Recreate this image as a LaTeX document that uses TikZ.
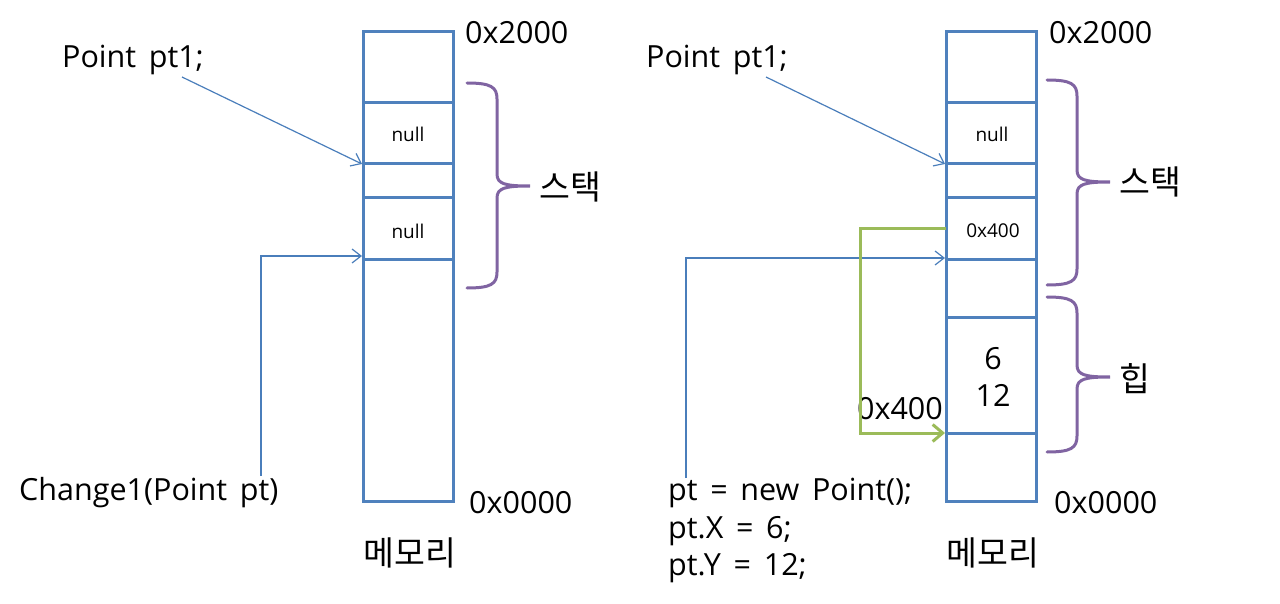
\documentclass[tikz,border=0pt]{standalone}
\usepackage{fontspec}
\setmainfont{Open Sans}[WordSpace=1.6]
\newfontfamily\kr{Noto Sans CJK KR}[Scale=1.1]
\usetikzlibrary{arrows.meta, positioning}

\definecolor{memblue}{HTML}{4F81BD}
\definecolor{ptrblue}{HTML}{4A7EBB}
\definecolor{bracepurple}{HTML}{8064A2}
\definecolor{refgreen}{HTML}{9BBB59}

\tikzset{
  big/.style={font=\fontsize{30.5}{37.5}\selectfont, inner sep=0pt},
  small/.style={font=\fontsize{19}{22}\selectfont, inner sep=0pt},
  mem/.style={draw=memblue, line width=3pt},
  ptr/.style={draw=ptrblue, line width=1.2pt, -{Straight Barb[length=9pt,width=14pt,line width=1.2pt]}},
  ref/.style={draw=refgreen, line width=3pt, -{Straight Barb[length=10pt,width=17pt,line width=3pt]}},
  brace/.style={draw=bracepurple, line width=3pt, line cap=round}
}

% curly brace: x, top, tip y, bottom
\newcommand{\curly}[4]{%
\draw[brace] (#1,#2) .. controls ({#1+24},#2) and ({#1+30},{#2+4}) .. ({#1+30},{#2+16})
  -- ({#1+30},{#3-12}) .. controls ({#1+30},{#3-2}) and ({#1+38},#3) .. ({#1+63},#3)
  .. controls ({#1+38},#3) and ({#1+30},{#3+2}) .. ({#1+30},{#3+12})
  -- ({#1+30},{#4-16}) .. controls ({#1+30},{#4-4}) and ({#1+24},#4) .. (#1,#4);}

\begin{document}
\begin{tikzpicture}[x=1pt, y=-1pt]
\useasboundingbox (0,0) rectangle (1280,604);

% left memory
\draw[mem] (363,32) rectangle (453,501);
\foreach \y in {103,164,198,260} \draw[mem] (363,\y) -- (453,\y);
\node[small] (nullL1) at (408,134) {null};
\node[small] (nullL2) at (408,231) {null};
\node[big, anchor=west] (topL) at (465,33) {0x2000};
\node[big, anchor=west] (botL) at (469,503) {0x0000};
\node[big] (memL) at (410,553) {\kr 메모리};
\node[big, anchor=west] (stackL) at (539,187) {\kr 스택};
\curly{467}{83}{186}{288}

\node[big] (ptdeclL) at (133,60) {Point pt1;};
\node[big, anchor=west] (changeL) at (19,493) {Change1(Point pt)};
\coordinate (ptdeclLout) at (182,77);
\coordinate (changeLout) at (261,476);
\coordinate (slotL2) at (362,164);
\coordinate (slotL4) at (362,256);
\draw[ptr] (ptdeclLout) -- (slotL2);
\draw[ptr] (changeLout) |- (slotL4);

% right memory
\draw[mem] (946,32) rectangle (1036,501);
\foreach \y in {103,164,198,260,317,433} \draw[mem] (946,\y) -- (1036,\y);
\node[small] (nullR1) at (992,134) {null};
\node[small] (addrR) at (993,231) {0x400};
\node[big, align=center] (heapR) at (993,377) {6\\12};
\node[big, anchor=west] (topR) at (1049,33) {0x2000};
\node[big, anchor=west] (botR) at (1054,503) {0x0000};
\node[big] (memR) at (993,553) {\kr 메모리};
\node[big, anchor=west] (stackR) at (1119,182) {\kr 스택};
\node[big, anchor=west] (heapLbl) at (1119,379) {\kr 힙};
\curly{1047}{80}{182}{285}
\curly{1047}{297}{377}{452}

\node[big] (ptdeclR) at (717,60) {Point pt1;};
\node[big, anchor=north west, align=left] (codeR) at (668,478) {pt = new Point();\\pt.X = 6;\\pt.Y = 12;};
\node[big, anchor=east] (refLbl) at (943,409) {0x400};
\coordinate (ptdeclRout) at (766,77);
\coordinate (codeRout) at (686,478);
\coordinate (slotR2) at (945,164);
\coordinate (slotR4) at (945,258);
\coordinate (refout) at (946,229);
\coordinate (heapin) at (945,433);
\draw[ptr] (ptdeclRout) -- (slotR2);
\draw[ptr] (codeRout) |- (slotR4);
\draw[ref] (refout) -| (860,433) -- (heapin);
\end{tikzpicture}
\end{document}
